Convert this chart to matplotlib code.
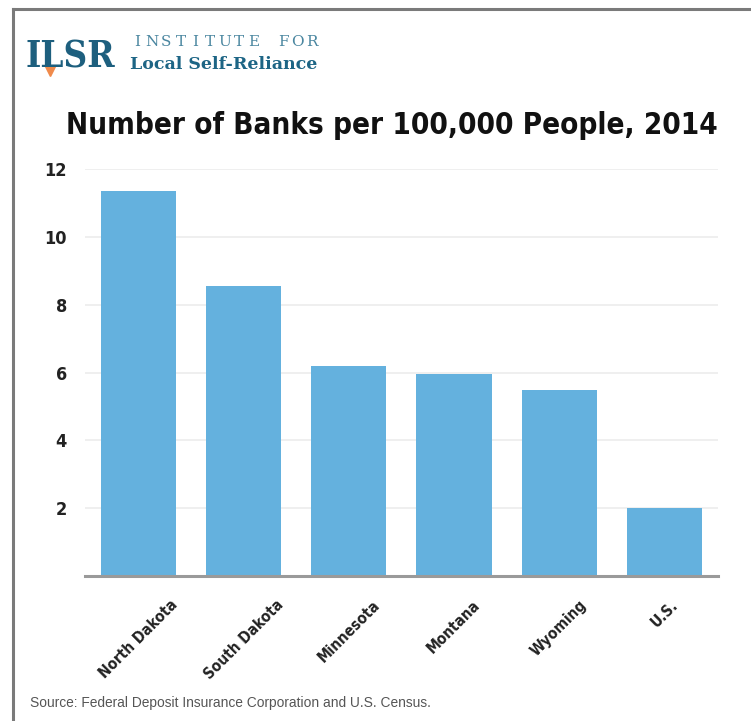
import matplotlib
matplotlib.use('Agg')
import matplotlib.pyplot as plt
from matplotlib import font_manager
from matplotlib.lines import Line2D

states = ['North Dakota', 'South Dakota', 'Minnesota', 'Montana', 'Wyoming', 'U.S.']
banks_per_100k = [11.35, 8.54, 6.18, 5.96, 5.48, 2.01]
yticks = [2, 4, 6, 8, 10, 12]

title = 'Number of Banks per 100,000 People, 2014'
source = 'Source: Federal Deposit Insurance Corporation and U.S. Census.'

# pick a narrow font if there is one
names = {f.name for f in font_manager.fontManager.ttflist}
if 'Liberation Sans Narrow' in names:
    narrow = ['Liberation Sans Narrow', 'DejaVu Sans']
else:
    narrow = ['DejaVu Sans']

W, H = 751, 721
fig = plt.figure(figsize=(W / 100, H / 100), dpi=100)
fig.patch.set_facecolor('white')

# frame around the picture (left and top edges show)
fig.add_artist(Line2D([13 / W, 13 / W], [0, 1 - 9 / H], color='#7a7a7a', lw=2.2))
fig.add_artist(Line2D([13 / W, 1], [1 - 9 / H, 1 - 9 / H], color='#7a7a7a', lw=2.2))

# logo
logo = fig.text(25 / W, 1 - 67 / H, 'ILSR', family='DejaVu Serif', fontsize=27,
                fontweight='semibold', fontstretch='condensed',
                color='#1d5f7e', va='baseline', ha='left')
fig.canvas.draw()
lw_ = logo.get_window_extent().width
logo.set_fontsize(27 * 90 / lw_)
fig.add_artist(Line2D([50 / W], [1 - 71 / H], marker='v', color='#f08a4b', ms=7, lw=0))
for i, ch in enumerate('INSTITUTE FOR'):
    fig.text((137 + i * 14.6) / W, 1 - 46 / H, ch, family='DejaVu Serif',
             fontsize=11, color='#4a86a0', va='baseline', ha='center')
lsr = fig.text(130 / W, 1 - 69 / H, 'Local Self-Reliance', family='DejaVu Serif',
               fontsize=12.5, fontweight='bold', color='#1d6585', va='baseline', ha='left')
fig.canvas.draw()
lsr.set_fontsize(12.5 * 188 / lsr.get_window_extent().width)

# title, fitted to the width it takes in the reference
t = fig.text(392 / W, 1 - 134 / H, title, family=narrow, fontstretch='condensed',
             fontweight='bold', fontsize=26, color='#111111', ha='center', va='baseline')
fig.canvas.draw()
w = t.get_window_extent().width
t.set_fontsize(26 * 652 / w)

ax = fig.add_axes([85 / W, 144.8 / H, 633 / W, 407.2 / H])
x = list(range(len(states)))
ax.bar(x, banks_per_100k, width=0.715, color='#64b1de', zorder=2)
ax.set_xlim(-0.507, 5.51)
ax.set_ylim(0, 12)
ax.set_yticks(yticks)
ax.set_yticklabels([str(v) for v in yticks], family=narrow, fontstretch='condensed',
                   fontweight='bold', fontsize=13, color='#222222')
ax.set_xticks(x)
ax.set_xticklabels(states, rotation=45, ha='center', va='top', family=narrow,
                   fontstretch='condensed', fontweight='bold', fontsize=11, color='#222222')
ax.tick_params(axis='y', length=0, pad=13)
ax.tick_params(axis='x', length=0, pad=15)
ax.yaxis.grid(True, color='#ececec', lw=1.2, zorder=0)
ax.set_axisbelow(True)
for s in ['top', 'right', 'left']:
    ax.spines[s].set_visible(False)
ax.spines['bottom'].set_color('#9a9a9a')
ax.spines['bottom'].set_linewidth(2.2)
ax.spines['bottom'].set_zorder(3)

fig.text(30 / W, 1 - 707 / H, source, family=['Liberation Sans', 'DejaVu Sans'],
         fontsize=9.9, color='#555555', ha='left', va='baseline')

fig.savefig('out.png', dpi=100, facecolor='white')
